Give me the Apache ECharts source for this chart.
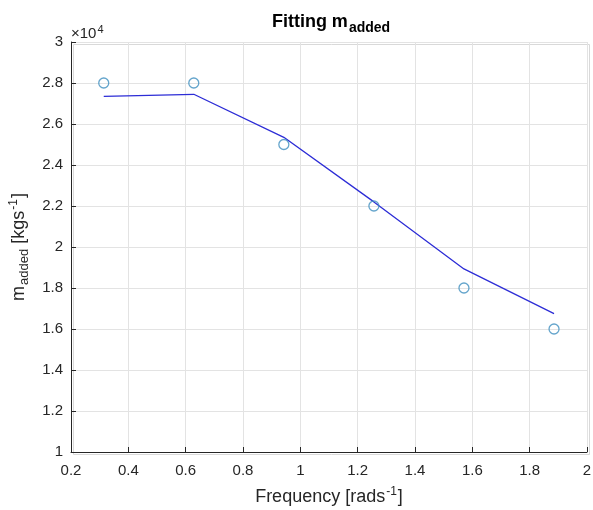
<!DOCTYPE html>
<html>
<head>
<meta charset="utf-8">
<script src="https://cdn.jsdelivr.net/npm/echarts@6/dist/echarts.min.js"></script>
<style>
  html, body { margin: 0; padding: 0; background: #fff; }
  #chart { width: 593px; height: 510px; }
</style>
</head>
<body>
<div id="chart"></div>
<script>
// Measured added mass at each frequency, and the fitted curve through them
const frequency = [0.3142, 0.6283, 0.9425, 1.2566, 1.5708, 1.8850];
const measured = [28000, 28000, 25000, 22000, 18000, 16000];
const fitted = [27350, 27450, 25350, 22200, 18930, 16750];
const xTicks = [0.2, 0.4, 0.6, 0.8, 1, 1.2, 1.4, 1.6, 1.8, 2];
const yTicks = [1, 1.2, 1.4, 1.6, 1.8, 2, 2.2, 2.4, 2.6, 2.8, 3];

const FONT = 'Liberation Sans, Arial, Helvetica, sans-serif';
const TXT = '#262626';

const chart = echarts.init(document.getElementById('chart'));
chart.setOption({
  animation: false,
  backgroundColor: '#fff',
  title: {
    text: '{a|Fitting m}{b|added}',
    left: 326, textAlign: 'center', top: 6,
    textStyle: {
      rich: {
        a: { fontFamily: FONT, fontSize: 18, fontWeight: 'bold', color: '#000', lineHeight: 22 },
        b: { fontFamily: FONT, fontSize: 14, fontWeight: 'bold', color: '#000', lineHeight: 22, padding: [12, 0, 0, 1] }
      }
    }
  },
  grid: { left: 71, right: 6, top: 42, bottom: 58, outerBoundsMode: 'none', containLabel: false },
  xAxis: {
    type: 'value', min: xTicks[0], max: xTicks[xTicks.length - 1], interval: 0.2,
    name: '{a|Frequency [rads}{s|-1}{a|]}',
    nameLocation: 'middle', nameGap: 34,
    nameTextStyle: {
      rich: {
        a: { fontFamily: FONT, fontSize: 18, color: TXT, lineHeight: 22 },
        s: { fontFamily: FONT, fontSize: 12, color: TXT, lineHeight: 22, padding: [0, 1, 10, 1] }
      }
    },
    axisLine: { onZero: false, lineStyle: { color: '#262626', width: 1 } },
    axisTick: { inside: true, length: 5, lineStyle: { color: '#262626' } },
    axisLabel: {
      fontFamily: FONT, fontSize: 15, color: TXT, margin: 11,
      formatter: v => String(+v.toFixed(1))
    },
    splitLine: { show: true, lineStyle: { color: '#e3e3e3', width: 1 } }
  },
  yAxis: {
    type: 'value', min: yTicks[0] * 1e4, max: yTicks[yTicks.length - 1] * 1e4, interval: 2000,
    name: '{a|m}{b|added}{a| [kgs}{s|-1}{a|]}',
    nameLocation: 'middle', nameGap: 41, nameRotate: 90,
    nameTextStyle: {
      rich: {
        a: { fontFamily: FONT, fontSize: 18, color: TXT, lineHeight: 22 },
        b: { fontFamily: FONT, fontSize: 13, color: TXT, lineHeight: 22, padding: [11, 0, 0, 1] },
        s: { fontFamily: FONT, fontSize: 12, color: TXT, lineHeight: 22, padding: [0, 1, 10, 1] }
      }
    },
    axisLine: { show: true, onZero: false, lineStyle: { color: '#262626', width: 1 } },
    axisTick: { show: true, inside: true, length: 5, lineStyle: { color: '#262626' } },
    axisLabel: {
      fontFamily: FONT, fontSize: 15, color: TXT, margin: 8,
      formatter: v => String(+(v / 10000).toFixed(1))
    },
    splitLine: { show: true, lineStyle: { color: '#e3e3e3', width: 1 } }
  },
  graphic: [{
    type: 'text', left: 71, top: 24,
    style: {
      text: '{a|\u00d710}{s|4}',
      rich: {
        a: { fontFamily: FONT, fontSize: 15, fill: TXT, lineHeight: 18 },
        s: { fontFamily: FONT, fontSize: 11, fill: TXT, lineHeight: 18, padding: [0, 0, 8, 1] }
      }
    }
  }, {
    // light top and right frame edges
    type: 'rect', left: 71, top: 42, silent: true,
    shape: { width: 516, height: 410 },
    style: { fill: 'none', stroke: '#d9d9d9', lineWidth: 1 }, z: -1
  }],
  series: [{
    type: 'line',
    data: frequency.map((x, i) => [x, fitted[i]]),
    showSymbol: false, symbol: 'none',
    lineStyle: { color: '#2d2dd6', width: 1.3 },
    z: 2
  }, {
    type: 'scatter',
    data: frequency.map((x, i) => [x, measured[i]]),
    symbol: 'circle', symbolSize: 10,
    itemStyle: { color: 'rgba(0,0,0,0)', borderColor: '#3f8fbf', borderWidth: 1.3 },
    z: 3
  }]
});
</script>
</body>
</html>
